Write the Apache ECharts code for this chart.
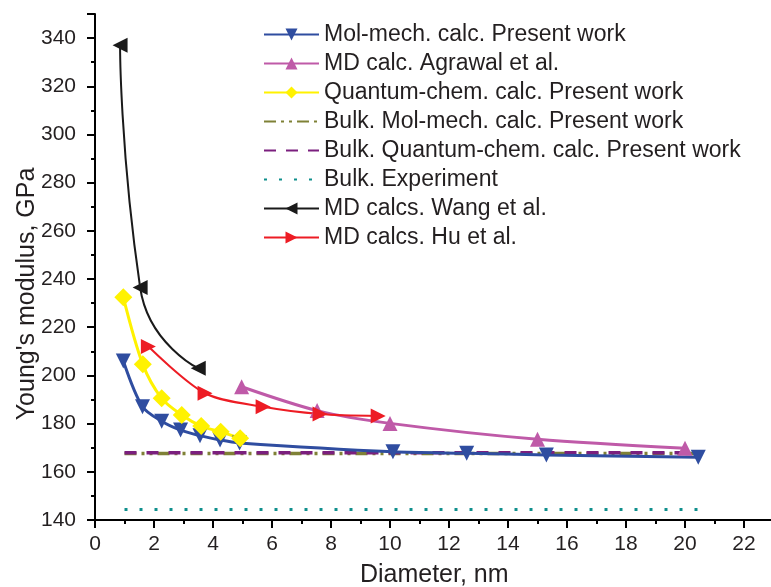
<!DOCTYPE html>
<html>
<head>
<meta charset="utf-8">
<script src="https://cdn.jsdelivr.net/npm/echarts@6/dist/echarts.min.js"></script>
<style>
  html, body { margin: 0; padding: 0; background: #fff; }
  #chart { width: 771px; height: 587px; }
</style>
</head>
<body>
<div id="chart"></div>
<script>
// Diameter (nm) and Young's modulus (GPa)
const molMechD = [0.96, 1.61, 2.26, 2.9, 3.56, 4.24, 4.9, 10.1, 12.6, 15.3, 20.45];
const molMechE = [206, 187, 181, 177.3, 175, 173.2, 172, 168.3, 167.7, 167, 166];
const agrawalD = [4.97, 7.53, 10, 15, 20];
const agrawalE = [195.3, 185.4, 180.1, 173.5, 169.8];
const quantumD = [0.96, 1.62, 2.26, 2.94, 3.6, 4.26, 4.92];
const quantumE = [232.4, 204.6, 190.5, 183.6, 179, 176.6, 173.9];
const wangD = [0.85, 1.53, 3.5];
const wangE = [337, 236.5, 203];
const huD = [1.81, 3.73, 5.7, 7.63, 9.6];
const huE = [212, 192.6, 187, 184, 183.2];
const bulkRange = [1, 20.6];
const bulkMolMech = 167.6;
const bulkQuantum = 167.9;
const bulkExperiment = 144.4;

const pairs = (xs, ys) => xs.map((x, i) => [x, ys[i]]);
const flat = v => bulkRange.map(x => [x, v]);

const font = 'Liberation Sans, Arial, sans-serif';
const textColor = '#231f20';
const noMarker = { color: 'transparent', borderWidth: 0 };

const chart = echarts.init(document.getElementById('chart'), null, { renderer: 'canvas' });

const option = {
  animation: false,
  backgroundColor: '#fff',
  grid: { left: 95, top: 14, width: 678.5, height: 506, outerBoundsMode: 'none' },
  legend: {
    orient: 'vertical',
    left: 258,
    top: 18,
    itemWidth: 55,
    itemHeight: 15,
    itemGap: 6,
    textStyle: { fontFamily: font, fontSize: 23, lineHeight: 23, color: textColor },
    data: [
      { name: 'Mol-mech. calc. Present work' },
      { name: 'MD calc. Agrawal et al.' },
      { name: 'Quantum-chem. calc. Present work' },
      { name: 'Bulk. Mol-mech. calc. Present work', itemStyle: noMarker },
      { name: 'Bulk. Quantum-chem. calc. Present work', itemStyle: noMarker },
      { name: 'Bulk. Experiment', itemStyle: noMarker },
      { name: 'MD calcs. Wang et al.' },
      { name: 'MD calcs. Hu et al.' }
    ]
  },
  xAxis: {
    type: 'value',
    min: 0,
    max: 23,
    interval: 2,
    name: 'Diameter, nm',
    nameLocation: 'middle',
    nameGap: 43,
    nameMoveOverlap: false,
    nameTextStyle: { fontFamily: font, fontSize: 25, color: textColor },
    axisLine: { lineStyle: { color: '#000', width: 2 } },
    axisTick: { length: 8, lineStyle: { color: '#000', width: 2 } },
    minorTick: { show: true, splitNumber: 2, length: 4, lineStyle: { color: '#000', width: 2 } },
    axisLabel: { showMaxLabel: false, margin: 14, fontFamily: font, fontSize: 21, color: textColor },
    splitLine: { show: false }
  },
  yAxis: {
    type: 'value',
    min: 140,
    max: 350,
    interval: 20,
    name: "Young's modulus, GPa",
    nameLocation: 'middle',
    nameGap: 55,
    nameMoveOverlap: false,
    nameTextStyle: { fontFamily: font, fontSize: 25, color: textColor, padding: [0, 54, 0, 0] },
    axisLine: { lineStyle: { color: '#000', width: 2 } },
    axisTick: { length: 8, lineStyle: { color: '#000', width: 2 } },
    minorTick: { show: true, splitNumber: 2, length: 4, lineStyle: { color: '#000', width: 2 } },
    axisLabel: { showMaxLabel: false, margin: 19, fontFamily: font, fontSize: 21, color: textColor },
    splitLine: { show: false }
  },
  series: [
    {
      name: 'Bulk. Mol-mech. calc. Present work',
      type: 'line',
      symbol: 'none',
      data: flat(bulkMolMech),
      lineStyle: { color: '#7f8136', width: 3.5, type: [12, 5, 3, 5, 3, 5] },
      itemStyle: { color: '#7f8136' }
    },
    {
      name: 'Bulk. Quantum-chem. calc. Present work',
      type: 'line',
      symbol: 'none',
      data: flat(bulkQuantum),
      lineStyle: { color: '#7b1f7e', width: 3.5, type: [12, 10] },
      itemStyle: { color: '#7b1f7e' }
    },
    {
      name: 'Bulk. Experiment',
      type: 'line',
      symbol: 'none',
      data: flat(bulkExperiment),
      lineStyle: { color: '#0f8f8c', width: 3, type: [3, 12] },
      itemStyle: { color: '#0f8f8c' }
    },
    {
      name: 'MD calc. Agrawal et al.',
      type: 'line',
      smooth: 0.3,
      symbol: 'triangle',
      symbolSize: 15,
      data: pairs(agrawalD, agrawalE),
      lineStyle: { color: '#bf5aa8', width: 3 },
      itemStyle: { color: '#bf5aa8' }
    },
    {
      name: 'Mol-mech. calc. Present work',
      type: 'line',
      smooth: 0.3,
      symbol: 'triangle',
      symbolRotate: 180,
      symbolSize: 15,
      data: pairs(molMechD, molMechE),
      lineStyle: { color: '#2f4da0', width: 3 },
      itemStyle: { color: '#2f4da0' }
    },
    {
      name: 'Quantum-chem. calc. Present work',
      type: 'line',
      smooth: 0.3,
      symbol: 'diamond',
      symbolSize: 18,
      data: pairs(quantumD, quantumE),
      lineStyle: { color: '#fff200', width: 3 },
      itemStyle: { color: '#fff200' }
    },
    {
      name: 'MD calcs. Wang et al.',
      type: 'line',
      smooth: 0.6,
      symbol: 'triangle',
      symbolRotate: 90,
      symbolSize: 15,
      data: pairs(wangD, wangE),
      lineStyle: { color: '#1a1a1a', width: 2 },
      itemStyle: { color: '#1a1a1a' }
    },
    {
      name: 'MD calcs. Hu et al.',
      type: 'line',
      smooth: 0.3,
      symbol: 'triangle',
      symbolRotate: -90,
      symbolSize: 15,
      data: pairs(huD, huE),
      lineStyle: { color: '#ed1c24', width: 2 },
      itemStyle: { color: '#ed1c24' }
    }
  ]
};

chart.setOption(option);
</script>
</body>
</html>
